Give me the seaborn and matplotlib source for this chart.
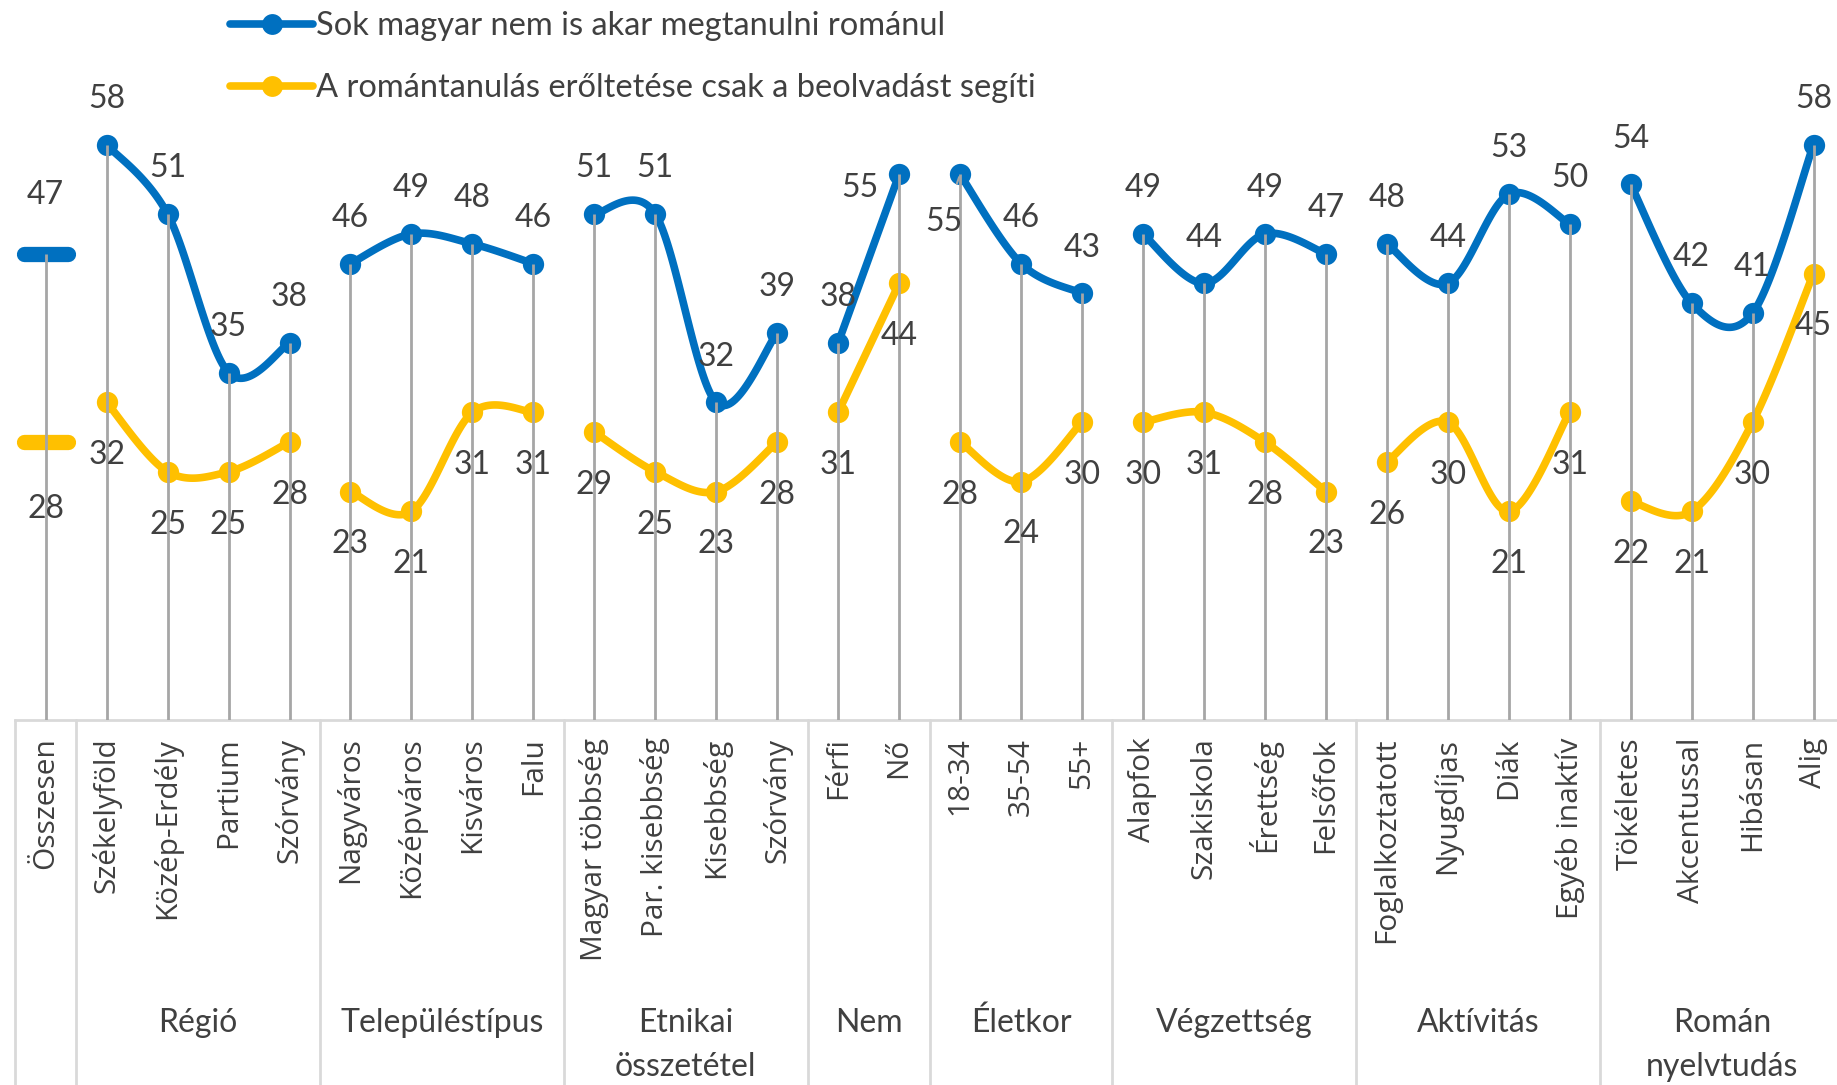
import numpy as np
import pandas as pd
import matplotlib
matplotlib.use("Agg")
import matplotlib.pyplot as plt
import seaborn as sns
from matplotlib.markers import MarkerStyle
from matplotlib.lines import Line2D
import matplotlib.transforms as mtransforms

# ---------------- data ----------------
categories = ["Összesen", "Székelyföld", "Közép-Erdély", "Partium", "Szórvány",
              "Nagyváros", "Középváros", "Kisváros", "Falu",
              "Magyar többség", "Par. kisebbség", "Kisebbség", "Szórvány",
              "Férfi", "Nő", "18-34", "35-54", "55+",
              "Alapfok", "Szakiskola", "Érettség", "Felsőfok",
              "Foglalkoztatott", "Nyugdíjas", "Diák", "Egyéb inaktív",
              "Tökéletes", "Akcentussal", "Hibásan", "Alig"]
group_names = ["", "Régió", "Településtípus", "Etnikai\nösszetétel", "Nem",
               "Életkor", "Végzettség", "Aktívitás", "Román\nnyelvtudás"]
group_sizes = [1, 4, 4, 4, 2, 3, 4, 4, 4]
blue_values = [47, 58, 51, 35, 38, 46, 49, 48, 46, 51, 51, 32, 39, 38, 55,
               55, 46, 43, 49, 44, 49, 47, 48, 44, 53, 50, 54, 42, 41, 58]
yellow_values = [28, 32, 25, 25, 28, 23, 21, 31, 31, 29, 25, 23, 28, 31, 44,
                 28, 24, 30, 30, 31, 28, 23, 26, 30, 21, 31, 22, 21, 30, 45]
series_names = ["Sok magyar nem is akar megtanulni románul",
                "A romántanulás erőltetése csak a beolvadást segíti"]

BLUE = "#0070C0"
YELLOW = "#FFC000"
DROP = "#A6A6A6"
SEP = "#D9D9D9"
TXT = "#404040"
FONT = "Lato"
TICKFONT = "Open Sans"


def smooth(xs, ys, n=40):
    P = np.column_stack([xs, ys]).astype(float)
    if len(P) == 1:
        return P
    ext = np.vstack([P[0], P, P[-1]])
    out = []
    t = np.linspace(0, 1, n)[:, None]
    for i in range(len(P) - 1):
        p0, p1, p2, p3 = ext[i], ext[i + 1], ext[i + 2], ext[i + 3]
        c1 = p1 + (p2 - p0) / 6
        c2 = p2 - (p3 - p1) / 6
        seg = (1 - t) ** 3 * p1 + 3 * (1 - t) ** 2 * t * c1 + 3 * (1 - t) * t ** 2 * c2 + t ** 3 * p2
        out.append(seg if i == 0 else seg[1:])
    return np.vstack(out)


sns.set_theme(style="white")
plt.rcParams["font.family"] = [FONT, "DejaVu Sans"]

W, H = 1837, 1085
fig = plt.figure(figsize=(W / 100, H / 100), dpi=100)
ax_left_px, ax_bottom_px = 15.2, 719.5
step_px = 60.96
ax = fig.add_axes([ax_left_px / W, (H - ax_bottom_px) / H, 30 * step_px / W, ax_bottom_px / H])
ax.set_xlim(-0.5, 29.5)
ax.set_ylim(0, ax_bottom_px / 9.91)

starts = np.cumsum([0] + group_sizes[:-1])
x_idx = np.arange(len(categories))

rows = []
for gi, (s, n) in enumerate(zip(starts, group_sizes)):
    if n < 2:
        continue
    for name, vals in zip(series_names, [blue_values, yellow_values]):
        curve = smooth(x_idx[s:s + n], vals[s:s + n])
        for cx, cy in curve:
            rows.append({"x": cx, "y": cy, "series": name, "seg": f"{name}-{gi}"})
curves = pd.DataFrame(rows)

pts = pd.DataFrame({
    "x": np.concatenate([x_idx[1:], x_idx[1:]]),
    "y": blue_values[1:] + yellow_values[1:],
    "series": [series_names[0]] * 29 + [series_names[1]] * 29,
})
palette = {series_names[0]: BLUE, series_names[1]: YELLOW}

for name in [series_names[1], series_names[0]]:
    sns.lineplot(data=curves[curves.series == name], x="x", y="y", units="seg",
                 estimator=None, sort=False, color=palette[name], lw=5.5,
                 solid_capstyle="round", ax=ax, legend=False, zorder=3)
    sns.scatterplot(data=pts[pts.series == name], x="x", y="y", color=palette[name],
                    s=235, linewidth=0, ax=ax, legend=False, zorder=4)

dash = MarkerStyle("_", capstyle="round")
ax.plot([x_idx[0]], [blue_values[0]], marker=dash, ms=31, mew=11, color=BLUE, zorder=4)
ax.plot([x_idx[0]], [yellow_values[0]], marker=dash, ms=31, mew=11, color=YELLOW, zorder=4)

ax.vlines(x_idx, 0, np.maximum(blue_values, yellow_values), color=DROP, lw=2.0, zorder=5)

lab_kw = dict(textcoords="offset points", ha="center", va="center",
              fontsize=23, color=TXT, zorder=6)
for i, (b, y) in enumerate(zip(blue_values, yellow_values)):
    if i == 0:
        ax.annotate(str(b), (i, b), xytext=(0, 42), **lab_kw)
        ax.annotate(str(y), (i, y), xytext=(0, -48), **lab_kw)
        continue
    if categories[i] == "Nő":
        ax.annotate(str(b), (i, b), xytext=(-28, -10), **lab_kw)
    elif categories[i] == "18-34":
        ax.annotate(str(b), (i, b), xytext=(-12, -34),
                    arrowprops=dict(arrowstyle="-", color=DROP, lw=1.5, shrinkA=15, shrinkB=2),
                    **lab_kw)
    else:
        ax.annotate(str(b), (i, b), xytext=(0, 33), **lab_kw)
    ax.annotate(str(y), (i, y), xytext=(0, -38), **lab_kw)

for sp in ["top", "left", "right"]:
    ax.spines[sp].set_visible(False)
ax.spines["bottom"].set_color(SEP)
ax.spines["bottom"].set_linewidth(2)
ax.yaxis.set_visible(False)
ax.set_xlabel("")
ax.set_ylabel("")
ax.set_xticks(x_idx)
ax.set_xticklabels(categories, rotation=90, fontfamily=TICKFONT, fontsize=21.5, color=TXT)
ax.tick_params(axis="x", length=0, pad=13)

trans = mtransforms.blended_transform_factory(ax.transData, ax.transAxes)
bottom_frac = -(H - ax_bottom_px) / ax_bottom_px - 0.05
bounds = [-0.5] + list(starts[1:] - 0.5) + [29.5]
for b in bounds:
    ax.plot([b, b], [0, bottom_frac], transform=trans, clip_on=False, color=SEP, lw=2)

line1_px, line2_px = 1032, 1076
for name, s, n in zip(group_names, starts, group_sizes):
    if not name:
        continue
    cx = s + (n - 1) / 2
    for k, line in enumerate(name.split("\n")):
        ypx = line1_px if k == 0 else line2_px
        ax.text(cx, -(ypx - ax_bottom_px) / ax_bottom_px, line, transform=trans,
                ha="center", va="baseline", fontsize=23, color=TXT, clip_on=False)

handles = [Line2D([], [], color=BLUE, lw=5.5, marker="o", ms=15, mew=0),
           Line2D([], [], color=YELLOW, lw=5.5, marker="o", ms=15, mew=0)]
leg = fig.legend(handles, series_names, loc="upper left",
                 bbox_to_anchor=(230 / W, 1 - 11 / H), bbox_transform=fig.transFigure,
                 frameon=False, borderpad=0, borderaxespad=0, handlelength=2.55,
                 handletextpad=0.07, labelspacing=0.98, fontsize=23.5)
for t in leg.get_texts():
    t.set_color(TXT)

fig.savefig("out.png", dpi=100, facecolor="white")
